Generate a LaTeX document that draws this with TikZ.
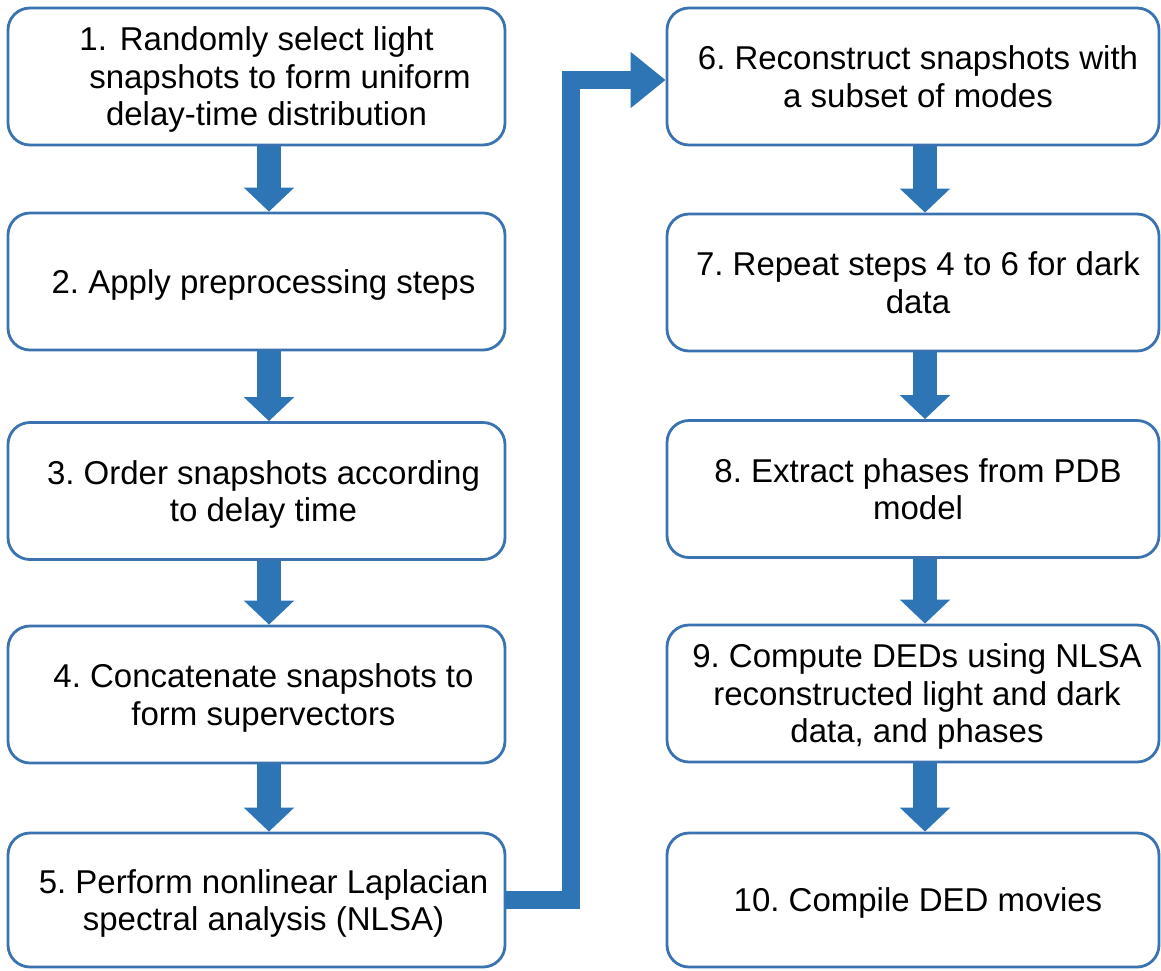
\documentclass[tikz,border=0pt]{standalone}
\usepackage{fontspec}
\setmainfont{Liberation Sans}
\frenchspacing
\usetikzlibrary{arrows.meta}
\definecolor{arrowblue}{RGB}{46,117,182}
\definecolor{boxblue}{RGB}{58,115,176}
\begin{document}
\begin{tikzpicture}[x=1pt,y=-1pt,
  stepbox/.style={draw=boxblue, line width=2.8pt, rounded corners=22pt, fill=white,
    minimum height=137pt, inner sep=0pt},
  leftbox/.style={stepbox, minimum width=497pt},
  rightbox/.style={stepbox, minimum width=492pt},
  txt/.style={inner sep=0pt, align=center, text depth=0pt,
    font=\fontsize{33}{37.5}\selectfont},
  downarrow/.style={draw=arrowblue, line width=24pt,
    -{Triangle[width=49pt,length=24pt]}},
  elbowarrow/.style={draw=arrowblue, line width=18pt, line join=miter,
    -{Triangle[width=54pt,length=35pt]}}
]
\useasboundingbox (0,0) rectangle (1161,970);

\node[leftbox] (b1) at (256.5,76.5) {};
\node[leftbox] (b2) at (256.5,281.5) {};
\node[leftbox] (b3) at (256.5,491) {};
\node[leftbox] (b4) at (256.5,694.5) {};
\node[leftbox, minimum height=134pt] (b5) at (256.5,900) {};

\node[rightbox] (b6) at (913,76.5) {};
\node[rightbox] (b7) at (913,282.5) {};
\node[rightbox] (b8) at (913,489) {};
\node[rightbox] (b9) at (913,693.5) {};
\node[rightbox, minimum height=134pt] (b10) at (913,900) {};

\node[txt] (t1) at ([xshift=10pt]b1.center) {\hspace*{-20pt}1.\hspace{13pt}Randomly select light\\\hspace*{27pt}snapshots to form uniform\\delay-time distribution};
\node[txt] (t2) at ([xshift=7pt]b2.center) {2. Apply preprocessing steps};
\node[txt] (t3) at ([xshift=7pt]b3.center) {3. Order snapshots according\\to delay time};
\node[txt] (t4) at ([xshift=7pt]b4.center) {4. Concatenate snapshots to\\form supervectors};
\node[txt] (t5) at ([xshift=7pt]b5.center) {5. Perform nonlinear Laplacian\\spectral analysis (NLSA)};

\node[txt] (t6) at ([xshift=5pt]b6.center) {6. Reconstruct snapshots with\\a subset of modes};
\node[txt] (t7) at ([xshift=5pt]b7.center) {7. Repeat steps 4 to 6 for dark\\data};
\node[txt] (t8) at ([xshift=5pt]b8.center) {8. Extract phases from PDB\\model};
\node[txt] (t9) at ([xshift=4pt]b9.center) {9. Compute DEDs using NLSA\\reconstructed light and dark\\data, and phases};
\node[txt] (t10) at ([xshift=5pt]b10.center) {10. Compile DED movies};

\foreach \a/\b in {b1/b2,b2/b3,b3/b4,b4/b5}
  \draw[downarrow] ([xshift=12.5pt]\a.south) -- ([xshift=12.5pt]\b.north);
\foreach \a/\b in {b6/b7,b7/b8,b8/b9,b9/b10}
  \draw[downarrow] ([xshift=12pt]\a.south) -- ([xshift=12pt]\b.north);

\draw[elbowarrow] (b5.east) -- ++(65,0) |- ([yshift=-3.5pt]b6.west);
\end{tikzpicture}
\end{document}
